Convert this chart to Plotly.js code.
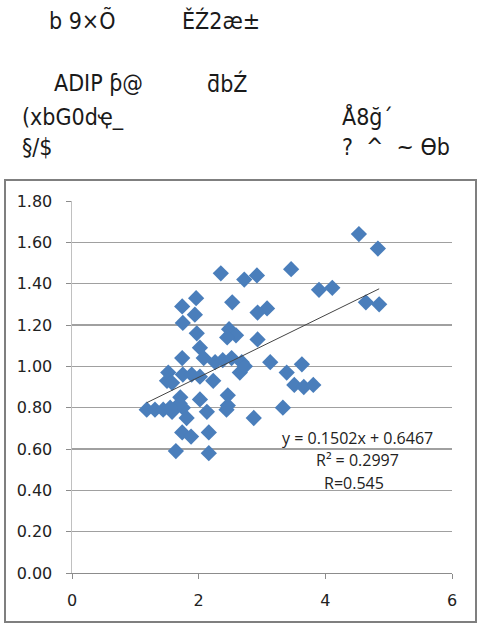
<!DOCTYPE html>
<html>
<head>
<meta charset="utf-8">
<script src="https://cdn.plot.ly/plotly-3.0.1.min.js"></script>
<style>html,body{margin:0;padding:0;background:#fff;}#chart{width:478px;height:624px;}</style>
</head>
<body>
<div id="chart"></div>
<script>
const xValues = [4.53,4.83,3.46,2.35,2.92,2.72,3.90,4.11,1.96,2.53,4.64,4.85,1.74,3.08,2.93,1.94,1.75,2.48,1.97,2.59,2.45,2.93,2.02,1.74,2.08,2.26,2.38,2.52,2.68,2.65,2.73,3.13,1.52,1.50,1.58,1.75,1.89,2.02,2.23,1.71,2.02,2.46,2.46,2.44,1.18,1.31,1.44,1.58,1.75,1.81,2.13,2.87,3.33,3.39,3.63,3.51,3.66,3.81,1.74,1.88,2.16,1.64,2.16,1.70,1.55];
const yValues = [1.64,1.57,1.47,1.45,1.44,1.42,1.37,1.38,1.33,1.31,1.31,1.30,1.29,1.28,1.26,1.25,1.21,1.18,1.16,1.15,1.14,1.13,1.09,1.04,1.04,1.02,1.03,1.04,1.02,0.97,1.00,1.02,0.97,0.93,0.92,0.96,0.96,0.95,0.93,0.85,0.84,0.86,0.81,0.79,0.79,0.79,0.79,0.78,0.80,0.75,0.78,0.75,0.80,0.97,1.01,0.91,0.90,0.91,0.68,0.66,0.68,0.59,0.58,0.82,0.80];
const slope = 0.1502;
const intercept = 0.6467;
const eqLines = ["y = 0.1502x + 0.6467", "R² = 0.2997", "R=0.545"];
const headerLeft = ["b 9×Õ", "ADIP ƥ@", "(xbG0dҿ_", "§/$"];
const headerRight = ["ĚŹ2æ±", "ƌbŹ", "Å8ğ´", "?\u00a0\u00a0^\u00a0\u00a0~\u00a0ϴb"];

const xMin = Math.min(...xValues), xMax = Math.max(...xValues);
const trendX = [xMin, xMax];
const trendY = trendX.map(v => slope * v + intercept);

const W = 478, H = 624, L = 72, R = 26, T = 201, B = 51;
const pw = W - L - R, ph = H - T - B;
const px = x => (x - L) / pw;
const py = y => (H - B - y) / ph;

const headFont = {family: "Liberation Sans Narrow, DejaVu Sans Condensed, sans-serif", size: 23, color: "#1a1a1a"};
const headPos = [[47,20,180,20],[52,83,205,83],[20,117,340,116],[20,147,340,147]];
const anns = [];
headPos.forEach((p,i)=>{
  anns.push({xref:'paper',yref:'paper',x:px(p[0]),y:py(p[1]),xanchor:'left',yanchor:'middle',text:headerLeft[i],showarrow:false,font:headFont});
  anns.push({xref:'paper',yref:'paper',x:px(p[2]),y:py(p[3]),xanchor:'left',yanchor:'middle',text:headerRight[i],showarrow:false,font:headFont});
});
const eqPos = [[4.50,0.652],[4.50,0.546],[4.45,0.434]];
eqLines.forEach((t,i)=>{
  anns.push({x:eqPos[i][0],y:eqPos[i][1],xref:'x',yref:'y',text:t,showarrow:false,xanchor:'center',yanchor:'middle',font:{family:"Open Sans, sans-serif",size:16,color:"#222"}});
});

const data = [
  {x: xValues, y: yValues, type:'scatter', mode:'markers', marker:{symbol:'diamond', size:12.5, color:'#4a7ebb'}, hoverinfo:'none'},
  {x: trendX, y: trendY, type:'scatter', mode:'lines', line:{color:'#444', width:1}, hoverinfo:'none'}
];
const tickFont = {family:"DejaVu Sans, sans-serif", size:16, color:"#222"};
const layout = {
  width: W, height: H,
  margin: {l:L, r:R, t:T, b:B, pad:0},
  showlegend:false,
  paper_bgcolor:'#fff', plot_bgcolor:'#fff',
  xaxis:{range:[0,6], dtick:2, tick0:0, showgrid:false, zeroline:false, showline:true, linecolor:'#8c8c8c', linewidth:1,
    ticks:'outside', ticklen:5, tickcolor:'#8c8c8c', tickfont:tickFont, ticklabelstandoff:8},
  yaxis:{range:[0,1.8], dtick:0.2, tick0:0, tickformat:'.2f', showgrid:true, gridcolor:'#a0a0a0', gridwidth:1.2, zeroline:false,
    showline:true, linecolor:'#c0c0c0', linewidth:1.5, ticks:'outside', ticklen:5, tickcolor:'#8c8c8c', tickfont:tickFont, ticklabelstandoff:10},
  annotations: anns,
  shapes:[{type:'rect', xref:'paper', yref:'paper', x0:px(5), x1:px(476), y0:py(622), y1:py(180), line:{color:'#7f7f7f', width:2}}]
};
Plotly.newPlot('chart', data, layout, {staticPlot:true, displayModeBar:false});
</script>
</body>
</html>
